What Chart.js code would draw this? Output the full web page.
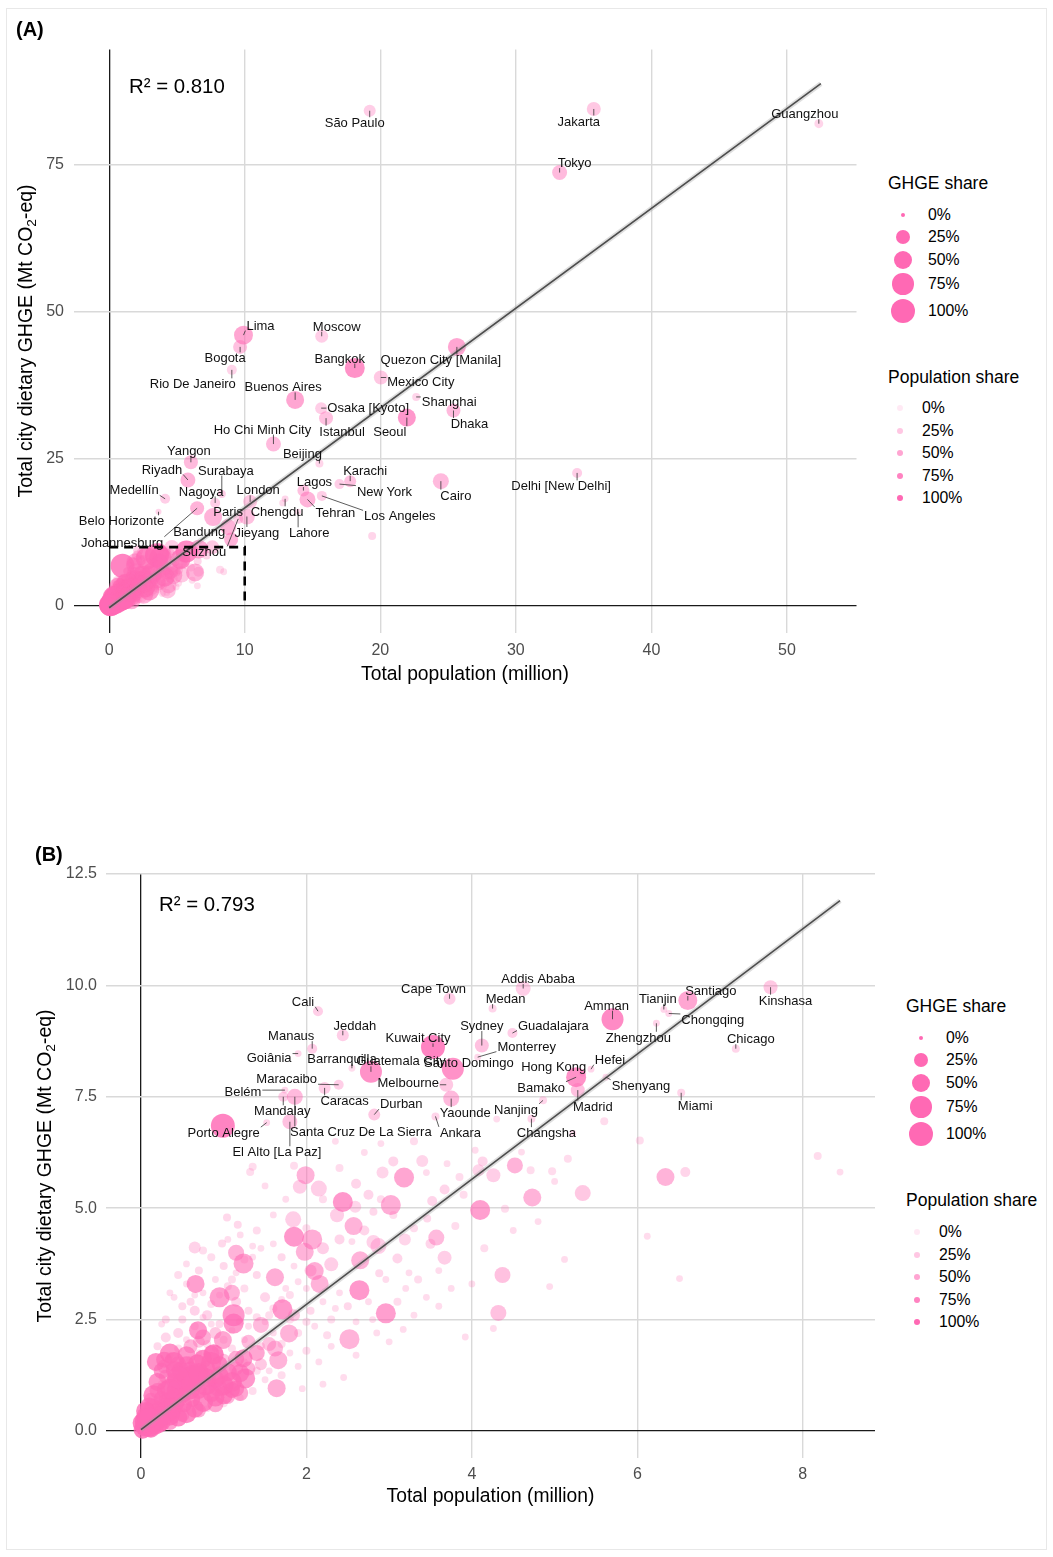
<!DOCTYPE html>
<html>
<head>
<meta charset="utf-8">
<script src="https://cdn.jsdelivr.net/npm/chart.js@4.4.1/dist/chart.umd.min.js"></script>
<style>
  html, body { margin: 0; padding: 0; background: #fff; }
  body { width: 1053px; height: 1557px; position: relative; overflow: hidden;
         font-family: "Liberation Sans", Arial, sans-serif; color: #000; }
  .frame { position: absolute; left: 6px; top: 8px; width: 1041px; height: 1542px;
           border: 1px solid #e8e8e8; box-sizing: border-box; }
  canvas { position: absolute; left: 0; }
  .tag { position: absolute; font-weight: bold; font-size: 20px; line-height: 1; transform: translateY(-50%); }
  .r2 { position: absolute; font-size: 20.4px; line-height: 1; transform: translateY(-50%); }
  .ytitle { position: absolute; font-size: 19.5px; white-space: nowrap; line-height: 1;
            transform: translate(-50%, -50%) rotate(-90deg); }
  .ytitle sub { font-size: 70%; vertical-align: -0.3em; line-height: 0; }
  .lg { position: absolute; white-space: nowrap; line-height: 1; transform: translateY(-50%); }
  .lg.title { font-size: 17.5px; }
  .lg.item { font-size: 15.8px; }
  .dot { position: absolute; border-radius: 50%; }
</style>
</head>
<body>
<div class="frame"></div>
<canvas id="chartA" width="870" height="720" style="top:0px"></canvas>
<canvas id="chartB" width="890" height="720" style="top:820px"></canvas>
<div id="overlay"></div>

<script>
// ---------------------------------------------------------------
// Largest cities (labelled in the full-range panel)
// ---------------------------------------------------------------
const namesA = ['São Paulo', 'Jakarta', 'Tokyo', 'Guangzhou', 'Moscow', 'Lima', 'Bogota', 'Bangkok',
  'Quezon City [Manila]', 'Mexico City', 'Rio De Janeiro', 'Buenos Aires', 'Osaka [Kyoto]', 'Shanghai',
  'Istanbul', 'Seoul', 'Dhaka', 'Ho Chi Minh City', 'Beijing', 'Yangon', 'Riyadh', 'Surabaya', 'Medellín',
  'Nagoya', 'London', 'Lagos', 'Karachi', 'New York', 'Cairo', 'Delhi [New Delhi]', 'Tehran', 'Los Angeles',
  'Chengdu', 'Lahore', 'Paris', 'Bandung', 'Johannesburg', 'Jieyang', 'Suzhou', 'Belo Horizonte'];
const popA = [19.22, 35.75, 33.23, 52.35, 15.68, 9.91, 9.66, 18.12,
  25.65, 20.04, 9.05, 13.72, 15.64, 22.65,
  16.00, 21.96, 25.40, 12.12, 15.51, 6.03, 5.81, 8.31, 4.13,
  7.82, 10.40, 14.33, 17.78, 16.99, 24.47, 34.52, 14.63, 15.69,
  12.98, 13.94, 7.67, 8.78, 6.49, 10.16, 9.52, 3.64];
const ghgeA = [84.1, 84.4, 73.6, 81.9, 45.8, 46.0, 44.0, 40.4,
  44.0, 38.8, 40.1, 35.0, 33.6, 35.5,
  31.9, 32.0, 33.2, 27.5, 24.2, 24.4, 21.4, 19.0, 18.2,
  17.5, 17.7, 19.6, 21.2, 20.7, 21.2, 22.6, 18.1, 18.7,
  18.2, 16.0, 15.1, 13.4, 16.6, 15.2, 14.8, 16.0];
const ghgeShareA = [16, 25, 30, 6, 20, 56, 25, 64,
  49, 25, 9, 49, 16, 4,
  25, 49, 25, 30, 4, 25, 30, 4, 9,
  9, 25, 16, 16, 9, 36, 9, 36, 9,
  2, 1, 49, 36, 25, 36, 9, 1];
const popShareA = [25, 30, 40, 20, 25, 55, 35, 70,
  55, 30, 20, 55, 25, 20,
  35, 65, 40, 40, 20, 40, 45, 25, 25,
  25, 30, 35, 35, 25, 40, 25, 45, 25,
  20, 15, 45, 45, 45, 35, 25, 20];

// ---------------------------------------------------------------
// Mid-sized cities (labelled in the zoomed panel)
// ---------------------------------------------------------------
const namesB = ['Cali', 'Cape Town', 'Medan', 'Addis Ababa', 'Amman', 'Tianjin', 'Chongqing', 'Santiago',
  'Kinshasa', 'Chicago', 'Zhengzhou', 'Guadalajara', 'Sydney', 'Monterrey', 'Jeddah', 'Manaus',
  'Kuwait City', 'Goiânia', 'Barranquilla', 'Maracaibo', 'Caracas', 'Guatemala City', 'Santo Domingo',
  'Melbourne', 'Yaounde', 'Ankara', 'Durban', 'Belém', 'Mandalay', 'Santa Cruz De La Sierra',
  'Porto Alegre', 'El Alto [La Paz]', 'Bamako', 'Madrid', 'Hong Kong', 'Hefei', 'Shenyang',
  'Nanjing', 'Changsha', 'Miami'];
const popB = [2.14, 3.73, 4.25, 4.62, 5.70, 6.32, 6.38, 6.61,
  7.61, 7.19, 6.23, 4.49, 4.12, 4.07, 2.44, 2.07,
  3.53, 1.90, 2.55, 2.39, 2.22, 2.78, 3.77,
  3.69, 3.75, 3.56, 2.82, 1.74, 1.72, 1.86,
  1.52, 1.80, 5.26, 5.28, 5.34, 5.44, 5.62,
  4.86, 4.72, 6.53];
const ghgeB = [9.42, 9.70, 9.48, 9.93, 9.24, 9.46, 9.37, 9.66,
  9.96, 8.58, 9.15, 8.93, 8.65, 8.39, 8.88, 8.58,
  8.62, 8.47, 8.14, 7.77, 7.70, 8.06, 8.13,
  7.77, 7.46, 7.06, 7.10, 7.65, 7.50, 7.50,
  6.92, 6.94, 7.94, 7.65, 8.03, 8.12, 7.94,
  7.42, 7.01, 7.59];
const ghgeShareB = [9, 16, 4, 30, 81, 2, 2, 56,
  25, 4, 2, 9, 25, 2, 16, 9,
  100, 2, 2, 9, 16, 81, 81,
  25, 36, 4, 16, 2, 9, 36,
  2, 30, 64, 25, 2, 2, 2,
  4, 4, 4];
const popShareB = [25, 25, 20, 25, 75, 20, 20, 55,
  30, 20, 20, 25, 35, 18, 25, 25,
  80, 20, 15, 25, 25, 70, 70,
  30, 40, 20, 30, 20, 25, 40,
  20, 35, 70, 35, 20, 20, 18,
  20, 20, 20];

// ---------------------------------------------------------------
// All other cities (unlabelled)
// ---------------------------------------------------------------
const otherPop = [
  // small cities near the origin
  0.02,0.05,0.08,0.10,0.12,0.15,0.18,0.20,0.22,0.25,0.28,0.30,0.32,0.35,0.38,0.40,0.42,0.45,0.48,0.50,
  0.52,0.55,0.58,0.60,0.62,0.65,0.68,0.70,0.72,0.75,0.78,0.80,0.85,0.88,0.90,0.95,1.00,1.05,1.10,
  0.15,0.25,0.05,0.08,0.30,0.40,0.02,0.12,0.18,0.06,0.22,
  0.20,0.30,0.45,0.60,0.75,0.50,0.70,0.90,1.05,0.35,0.12,0.28,1.15,1.30,1.40,
  // mid-sized cities
  1.99,1.92,2.15,2.92,3.18,3.40,2.44,2.59,3.02,2.37,2.57,1.84,1.85,2.07,1.98,0.65,1.15,1.24,1.62,2.10,
  2.16,2.30,2.65,2.87,3.57,3.67,2.64,2.96,2.52,0.66,0.95,1.10,1.12,1.12,1.71,1.45,1.79,1.66,1.62,1.24,
  1.26,1.64,0.93,0.69,0.35,0.55,0.85,0.41,0.63,0.99,0.99,4.52,4.26,4.08,4.73,5.34,4.10,6.34,6.58,4.37,
  4.32,2.81,3.19,3.10,3.67,3.52,4.13,
  // low-share cities
  5.16,4.97,4.71,4.60,4.04,6.03,8.18,8.45,6.12,6.51,5.12,4.94,4.26,3.92,2.88,2.96,3.24,3.46,2.81,4.40,
  3.17,5.60,5.22,3.30,1.32,1.35,4.30,2.70,1.04,1.17,0.98,0.30,0.40,0.50,0.45,0.55,0.60,0.70,0.75,0.80,
  0.85,0.90,0.95,1.00,1.05,1.10,1.15,1.20,1.25,1.30,1.35,1.40,1.45,1.50,1.55,1.60,1.70,1.75,1.80,1.85,
  1.90,2.00,2.05,2.20,2.30,2.40,2.50,2.60,2.75,2.30,2.00,1.90,2.15,1.70,1.50,1.35,1.20,1.00,0.80,1.45,
  1.25,2.60,2.85,3.00,3.30,3.45,2.45,2.20,1.95,3.05,2.55,2.00,1.60,1.40,0.75,0.55,0.45,0.35,0.25,0.20,
  0.30,0.50,0.65,0.70,0.90,1.00,1.15,1.30,1.45,1.55,1.85,2.05,2.20,2.40,2.70,2.90,3.30,3.50,3.80,3.90,
  3.70,3.05,2.60,2.40,2.75,9.00,19.40,12.80,
  // more small cities near the origin
  0.10,0.15,0.20,0.25,0.18,0.28,0.40,0.48,0.55,0.35,0.45,0.60,0.70,0.80,0.85,0.95,1.00,1.10,1.15,0.90,
  0.75,0.65,0.55,0.45,0.35,0.25,1.20,1.20,0.05,0.10,
  // more low-share cities
  0.25,0.35,0.45,0.55,0.65,0.75,0.85,0.95,1.05,1.15,1.25,1.35,0.60,0.70,0.80,0.90,1.00,1.10,1.20,1.30,
  1.40,1.50,1.60,1.70,1.80,1.90,2.00,2.10,2.25,2.35,1.60,1.70,1.80,1.40,1.55,1.25,1.10,0.95,0.85,0.65,
  3.20,3.35,3.60,3.75,3.10,2.80,3.60,4.00,4.15,4.50,4.80,5.00,3.85,3.45,2.20,1.75,1.50,1.85,2.35,2.90];
const otherGhge = [
  0.03,0.10,0.16,0.12,0.26,0.21,0.36,0.28,0.46,0.40,0.30,0.56,0.62,0.48,0.76,0.63,0.92,0.70,1.06,0.83,
  0.60,1.21,0.95,1.36,0.72,1.10,1.52,0.90,1.25,1.62,1.05,1.41,0.85,1.72,1.16,1.50,1.02,1.32,0.92,
  0.52,0.72,0.32,0.46,0.92,1.12,0.18,0.05,0.10,0.22,0.16,
  0.90,1.22,1.50,1.90,2.10,0.36,0.46,0.60,0.76,0.20,0.70,1.45,1.62,1.40,1.75,
  5.74,5.48,5.44,5.80,5.69,6.06,5.14,5.03,5.07,4.84,4.60,4.75,4.36,4.30,4.02,4.12,4.00,3.76,3.45,3.59,
  3.30,3.74,3.83,4.15,4.34,3.89,3.16,2.64,2.06,3.30,3.00,3.10,2.60,2.41,2.73,2.38,2.19,1.59,1.85,1.63,
  1.18,0.96,0.98,2.26,1.74,1.70,1.74,1.37,1.26,2.04,6.85,5.96,5.74,5.85,5.24,5.34,4.96,5.70,5.81,3.50,
  2.65,4.24,4.30,3.87,5.42,5.16,6.05,
  6.11,5.83,5.85,6.26,6.30,6.52,6.17,5.81,4.37,3.42,3.85,3.24,2.30,2.11,3.54,3.40,3.55,4.77,4.92,4.99,
  2.28,6.95,6.68,6.50,5.81,5.93,7.00,6.25,4.79,4.63,4.21,2.50,3.00,2.80,2.20,3.30,2.90,3.60,3.10,2.60,
  3.90,3.40,2.40,3.70,4.30,3.40,2.90,4.40,3.20,2.70,3.90,3.50,4.10,3.00,2.60,4.20,3.90,3.20,2.50,3.70,
  2.20,3.20,2.70,2.90,2.50,3.10,2.80,2.45,2.90,1.90,1.80,1.45,1.55,1.25,1.15,0.90,0.75,0.62,0.50,1.90,
  2.05,1.70,2.20,2.00,2.60,3.00,1.20,1.05,0.95,4.85,4.25,4.55,4.85,4.50,4.05,3.75,3.50,3.10,2.40,1.90,
  2.10,2.50,2.70,2.00,2.20,1.60,1.40,2.00,1.50,1.95,2.60,3.60,4.10,4.30,4.50,5.20,4.55,4.20,4.60,5.30,
  6.00,6.05,5.55,5.90,5.30,11.30,11.90,17.50,
  0.55,0.80,1.10,1.35,1.55,1.60,1.55,1.35,1.50,0.95,1.20,1.05,1.30,1.20,1.55,1.25,0.80,1.10,0.95,0.75,
  0.65,0.50,0.40,0.30,0.35,0.20,1.30,0.85,0.45,0.30,
  1.05,1.70,1.85,2.05,2.35,2.55,2.85,3.05,3.25,3.55,3.85,4.15,1.60,1.75,1.95,1.85,2.05,2.25,2.45,2.35,
  2.55,2.45,2.75,2.95,3.05,3.35,2.45,2.35,2.15,2.75,2.20,1.95,1.75,1.35,1.35,1.55,1.85,1.75,2.40,3.05,
  3.20,3.40,3.60,3.20,2.90,2.50,2.80,3.30,4.10,4.50,4.70,5.60,5.70,5.80,5.20,5.20,5.50,5.95,6.50,6.45];
const otherGhgeShare = [
  49,64,36,81,49,64,36,81,49,64,36,49,64,81,36,64,49,36,64,49,
  36,64,81,49,36,64,49,36,64,49,81,36,49,64,49,36,64,49,36,
  49,36,49,36,49,36,64,49,36,81,49,
  36,25,36,25,36,25,25,36,25,36,25,25,36,25,36,
  49,25,36,16,64,16,64,16,64,25,49,36,64,64,49,16,36,64,49,49,
  49,25,49,36,36,25,64,64,64,49,64,36,81,64,64,36,49,49,36,49,
  64,49,49,49,64,49,36,49,64,49,100,36,25,16,49,36,64,49,9,36,
  36,25,16,9,9,9,9,
  4,4,4,2,2,4,4,2,2,2,2,2,2,2,4,2,2,4,4,4,
  2,4,2,4,4,4,2,2,4,4,4,4,2,4,9,2,4,4,2,9,
  4,2,4,4,2,4,9,2,4,4,2,4,2,9,4,2,4,2,4,2,
  4,2,4,2,4,2,4,2,2,2,4,2,2,4,2,4,2,4,2,4,
  2,2,2,2,2,2,2,2,2,4,2,4,2,4,4,2,4,2,2,4,
  9,4,9,16,16,16,25,25,16,25,16,16,16,9,9,4,4,9,4,4,
  2,9,9,4,9,25,4,2,
  49,64,49,36,49,36,64,49,36,64,81,49,64,49,64,49,49,64,36,49,
  64,49,64,49,64,49,49,36,49,64,
  4,2,4,2,4,2,4,2,4,2,4,2,4,2,4,2,4,2,4,2,
  4,2,4,2,4,2,4,2,4,2,2,4,2,4,2,2,4,2,2,2,
  2,4,2,2,4,2,2,2,4,2,2,2,4,2,4,2,2,4,2,2];
const otherPopShare = [
  80,80,70,85,75,80,70,85,75,80,70,80,75,85,70,80,75,70,80,75,
  70,80,85,75,70,80,75,70,80,75,85,70,70,80,75,70,80,75,70,
  70,65,75,70,70,65,80,80,75,85,75,
  55,45,55,45,50,50,50,55,45,60,50,45,50,45,55,
  45,25,25,20,55,20,65,20,50,25,45,25,65,50,45,22,45,55,50,50,
  45,25,45,25,40,25,65,60,45,60,60,45,65,65,65,40,45,45,40,65,
  65,50,65,65,70,65,50,70,70,55,80,45,25,20,45,30,60,45,20,35,
  35,22,20,20,20,20,20,
  15,15,15,15,15,15,15,15,15,15,15,15,15,15,18,15,15,18,18,15,
  15,15,15,15,15,15,15,15,18,18,18,18,15,18,20,15,18,18,15,22,
  15,15,18,18,15,15,20,15,15,18,15,18,15,20,15,15,18,15,15,15,
  15,15,18,15,15,15,18,15,15,15,15,15,15,15,15,15,15,15,15,18,
  15,15,15,15,15,15,15,15,15,15,15,15,15,15,15,15,15,15,15,18,
  20,18,22,30,30,35,40,40,30,35,30,30,25,20,20,15,15,20,15,15,
  15,20,20,15,20,45,20,18,
  70,75,70,65,70,60,75,70,65,80,80,75,75,70,70,70,70,70,60,70,
  75,70,75,75,80,75,65,55,75,80,
  15,15,15,15,18,15,15,15,15,15,15,15,18,15,15,15,15,15,18,15,
  15,15,15,15,15,15,15,15,15,15,15,15,15,15,15,15,15,15,15,15,
  15,15,15,15,15,15,15,15,15,15,15,15,15,15,15,15,15,15,15,15];

// Axis ticks and legend breaks
const xTicksA = [0, 10, 20, 30, 40, 50];
const yTicksA = [0, 25, 50, 75];
const xTicksB = [0, 2, 4, 6, 8];
const yTicksB = [0, 2.5, 5, 7.5, 10, 12.5];
const shareBreaks = [0, 25, 50, 75, 100];

// Linear fits (total GHGE ~ population)
const fitA = { slope: 1.695, intercept: -0.3, from: 0, to: 52.5, r2: '0.810' };
const fitB = { slope: 1.405, intercept: 0.03, from: 0, to: 8.45, r2: '0.793' };
// Extent of the zoomed panel, outlined in the full panel
const zoomExtent = { pop: 10, ghge: 10 };

// ---------------------------------------------------------------
// Layout: label nudges (pixels from the point) and legend placement
// ---------------------------------------------------------------
const nudgeA = {
  'São Paulo': [-15, 12], 'Jakarta': [-15, 12], 'Tokyo': [15, -10], 'Guangzhou': [-14, -10],
  'Moscow': [15, -10], 'Lima': [17, -10], 'Bogota': [-15, 11], 'Bangkok': [-15, -10],
  'Quezon City [Manila]': [-16, 13], 'Mexico City': [40, 4], 'Rio De Janeiro': [-39, 14],
  'Buenos Aires': [-12, -13], 'Osaka [Kyoto]': [47, -1], 'Shanghai': [33, 4], 'Istanbul': [16, 13],
  'Seoul': [-17, 14], 'Dhaka': [16, 13], 'Ho Chi Minh City': [-11, -15], 'Beijing': [-17, -10],
  'Yangon': [-2, -12], 'Riyadh': [-26, -11], 'Surabaya': [4, -24], 'Medellín': [-31, -9],
  'Nagoya': [-14, -12], 'London': [8, -12], 'Lagos': [11, -9], 'Karachi': [15, -11],
  'New York': [45, 7], 'Cairo': [15, 14], 'Delhi [New Delhi]': [-16, 13], 'Tehran': [28, 13],
  'Los Angeles': [78, 20], 'Chengdu': [-8, 13], 'Lahore': [11, 21], 'Paris': [15, -6],
  'Bandung': [-29, 4], 'Johannesburg': [-75, 34], 'Jieyang': [10, 16], 'Suzhou': [-34, 33],
  'Belo Horizonte': [-37, 9]
};
const nudgeB = {
  'Cali': [-15, -10], 'Cape Town': [-16, -10], 'Medan': [13, -10], 'Addis Ababa': [15, -10],
  'Amman': [-6, -14], 'Tianjin': [-6, -11], 'Chongqing': [44, 6], 'Santiago': [23, -10],
  'Kinshasa': [15, 13], 'Chicago': [15, -10], 'Zhengzhou': [-18, 14], 'Guadalajara': [41, -8],
  'Sydney': [0, -20], 'Monterrey': [49, -11], 'Jeddah': [12, -10], 'Manaus': [-21, -13],
  'Kuwait City': [-15, -9], 'Goiânia': [-29, 4], 'Barranquilla': [-10, -10], 'Maracaibo': [-52, -6],
  'Caracas': [20, 13], 'Guatemala City': [30, -11], 'Santo Domingo': [16, -6], 'Melbourne': [-38, -2],
  'Yaounde': [14, 14], 'Ankara': [25, 16], 'Durban': [27, -11], 'Belém': [-42, 1], 'Mandalay': [-1, 14],
  'Santa Cruz De La Sierra': [66, 35], 'Porto Alegre': [-43, 10], 'El Alto [La Paz]': [-13, 30],
  'Bamako': [-35, 10], 'Madrid': [15, 16], 'Hong Kong': [-29, -7], 'Hefei': [19, -10],
  'Shenyang': [35, 8], 'Nanjing': [-27, 9], 'Changsha': [15, 14], 'Miami': [14, 13]
};

const FONT = '"Liberation Sans", Arial, sans-serif';
Chart.defaults.font.family = FONT;

// point size grows with the square root of the GHGE share, opacity with the population share
const sizeFor = share => 2 + 10 * Math.sqrt(share / 100);
const alphaFor = share => 0.1 + 0.9 * share / 100;
const pink = a => `rgba(255,105,180,${a})`;

function cityPoints() {
  const pts = [];
  otherPop.forEach((x, i) => pts.push({ x, y: otherGhge[i], g: otherGhgeShare[i], p: otherPopShare[i] }));
  popB.forEach((x, i) => pts.push({ x, y: ghgeB[i], g: ghgeShareB[i], p: popShareB[i] }));
  popA.forEach((x, i) => pts.push({ x, y: ghgeA[i], g: ghgeShareA[i], p: popShareA[i] }));
  return pts;
}

// Text labels with ggrepel-style leader segments
const cityLabels = {
  id: 'cityLabels',
  afterDatasetsDraw(chart, args, o) {
    const { ctx } = chart;
    const xs = chart.scales.x, ys = chart.scales.y;
    ctx.save();
    ctx.font = `13px ${FONT}`;
    const items = o.names.map((name, i) => {
      const px = xs.getPixelForValue(o.pop[i]);
      const py = ys.getPixelForValue(o.ghge[i]);
      const [dx, dy] = o.nudge[name] || [0, -12];
      return { name, px, py, lx: px + dx, ly: py + dy, w: ctx.measureText(name).width };
    });
    ctx.strokeStyle = '#333';
    ctx.lineWidth = 0.8;
    items.forEach(it => {
      const h = 11;
      const bx = Math.max(it.lx - it.w / 2 - 1, Math.min(it.px, it.lx + it.w / 2 + 1));
      const by = Math.max(it.ly - h / 2, Math.min(it.py, it.ly + h / 2));
      if (Math.hypot(bx - it.px, by - it.py) > 2.5) {
        ctx.beginPath();
        ctx.moveTo(it.px, it.py);
        ctx.lineTo(bx, by);
        ctx.stroke();
      }
    });
    ctx.fillStyle = '#111';
    ctx.textAlign = 'center';
    ctx.textBaseline = 'middle';
    items.forEach(it => ctx.fillText(it.name, it.lx, it.ly + 1));
    ctx.restore();
  }
};

function makeChart(canvasId, cfg) {
  const zeroAware = (c, zero, other) => (c.tick && c.tick.value === 0 ? zero : other);
  const fitLine = [cfg.fit.from, cfg.fit.to].map(x => ({ x, y: cfg.fit.intercept + cfg.fit.slope * x }));
  const datasets = [
    {
      type: 'bubble', data: cityPoints(), order: 3, clip: 0,
      radius: c => sizeFor(c.raw.g),
      backgroundColor: c => pink(alphaFor(c.raw.p)),
      borderWidth: 0
    },
    {
      type: 'line', order: 2, clip: 0, pointRadius: 0, borderWidth: 5,
      borderColor: 'rgba(160,160,160,0.35)', data: fitLine
    },
    {
      type: 'line', order: 1, clip: 0, pointRadius: 0, borderWidth: 1.6, borderColor: '#4d4d4d',
      data: fitLine
    }
  ];
  if (cfg.box) {
    datasets.push({
      type: 'line', order: 0, clip: 0, pointRadius: 0, borderWidth: 2.6, borderColor: '#000',
      borderDash: [9, 6], tension: 0,
      data: [{ x: 0, y: cfg.box.ghge }, { x: cfg.box.pop, y: cfg.box.ghge }, { x: cfg.box.pop, y: 0 }]
    });
  }
  return new Chart(document.getElementById(canvasId), {
    type: 'bubble',
    data: { datasets },
    plugins: [cityLabels],
    options: {
      responsive: false, animation: false, events: [],
      layout: { padding: cfg.padding },
      plugins: {
        legend: { display: false }, tooltip: { enabled: false },
        cityLabels: { names: cfg.names, pop: cfg.pop, ghge: cfg.ghge, nudge: cfg.nudge }
      },
      scales: {
        x: {
          type: 'linear', min: cfg.xRange[0], max: cfg.xRange[1],
          afterBuildTicks: s => { s.ticks = cfg.xTicks.map(v => ({ value: v })); },
          afterFit: s => { s.height = 70; },
          border: { display: false },
          grid: {
            drawTicks: false,
            color: c => zeroAware(c, '#1a1a1a', '#d9d9d9'),
            lineWidth: c => zeroAware(c, 1.3, 1.4)
          },
          ticks: { padding: cfg.xTickPad, color: '#4d4d4d', font: { size: 16 }, callback: v => String(v) },
          title: { display: true, text: 'Total population (million)', color: '#000',
                   font: { size: 19.3 }, padding: { top: 0, bottom: cfg.xTitlePad } }
        },
        y: {
          type: 'linear', min: cfg.yRange[0], max: cfg.yRange[1],
          afterBuildTicks: s => { s.ticks = cfg.yTicks.map(v => ({ value: v })); },
          afterFit: s => { s.width = cfg.yWidth; },
          border: { display: false },
          grid: {
            drawTicks: false,
            color: c => zeroAware(c, '#1a1a1a', '#d9d9d9'),
            lineWidth: c => zeroAware(c, 1.3, 1.4)
          },
          ticks: { padding: cfg.yTickPad, color: '#4d4d4d', font: { size: 16 }, callback: cfg.yFormat }
        }
      }
    }
  });
}

makeChart('chartA', {
  names: namesA, pop: popA, ghge: ghgeA, nudge: nudgeA, fit: fitA, box: zoomExtent,
  xRange: [-2.63, 55.13], yRange: [-4.5, 94.5], xTicks: xTicksA, yTicks: yTicksA,
  padding: { top: 49.5, right: 13.5, bottom: 17.5, left: 0 },
  yWidth: 73.5, xTickPad: 8, xTitlePad: 16, yTickPad: 9.5,
  yFormat: v => String(v)
});

makeChart('chartB', {
  names: namesB, pop: popB, ghge: ghgeB, nudge: nudgeB, fit: fitB, box: null,
  xRange: [-0.4225, 8.8725], yRange: [-0.595, 12.5], xTicks: xTicksB, yTicks: yTicksB,
  padding: { top: 54, right: 15, bottom: 12.5, left: 0 },
  yWidth: 106, xTickPad: 7, xTitlePad: 19, yTickPad: 9,
  yFormat: v => v.toFixed(1)
});

// ---------------------------------------------------------------
// Panel tags, R² notes, y-axis titles and legends
// ---------------------------------------------------------------
const overlay = document.getElementById('overlay');
function addEl(cls, html, css) {
  const el = document.createElement('div');
  el.className = cls;
  el.innerHTML = html;
  Object.assign(el.style, css);
  overlay.appendChild(el);
  return el;
}

const panels = [
  { tag: '(A)', tagPos: [16, 29], fit: fitA, r2Pos: [129, 86], yTitle: [26, 341],
    legend: { left: 888, gTitle: 184, gRows: [215, 237, 260, 284, 311], gDot: 903, gText: 928,
              pTitle: 378, pRows: [408, 431, 453, 476, 498], pDot: 900, pText: 922 } },
  { tag: '(B)', tagPos: [35, 854], fit: fitB, r2Pos: [159, 904], yTitle: [45, 1166],
    legend: { left: 906, gTitle: 1007, gRows: [1038, 1060, 1083, 1107, 1134], gDot: 921, gText: 946,
              pTitle: 1201, pRows: [1232, 1255, 1277, 1300, 1322], pDot: 917, pText: 939 } }
];

panels.forEach(pn => {
  addEl('tag', pn.tag, { left: pn.tagPos[0] + 'px', top: pn.tagPos[1] + 'px' });
  addEl('r2', 'R² = ' + pn.fit.r2, { left: pn.r2Pos[0] + 'px', top: pn.r2Pos[1] + 'px' });
  addEl('ytitle', 'Total city dietary GHGE (Mt CO<sub>2</sub>-eq)',
        { left: pn.yTitle[0] + 'px', top: pn.yTitle[1] + 'px' });

  const lg = pn.legend;
  addEl('lg title', 'GHGE share', { left: lg.left + 'px', top: lg.gTitle + 'px' });
  shareBreaks.forEach((s, i) => {
    const r = sizeFor(s);
    addEl('dot', '', { left: (lg.gDot - r) + 'px', top: (lg.gRows[i] - r) + 'px',
                       width: 2 * r + 'px', height: 2 * r + 'px', background: pink(1) });
    addEl('lg item', s + '%', { left: lg.gText + 'px', top: lg.gRows[i] + 'px' });
  });
  addEl('lg title', 'Population share', { left: lg.left + 'px', top: lg.pTitle + 'px' });
  shareBreaks.forEach((s, i) => {
    const r = 3.3;
    addEl('dot', '', { left: (lg.pDot - r) + 'px', top: (lg.pRows[i] - r) + 'px',
                       width: 2 * r + 'px', height: 2 * r + 'px', background: pink(alphaFor(s) + 0.05) });
    addEl('lg item', s + '%', { left: lg.pText + 'px', top: lg.pRows[i] + 'px' });
  });
});
</script>
</body>
</html>
